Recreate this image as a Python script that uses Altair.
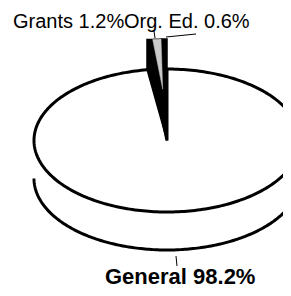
import altair as alt
import numpy as np
import pandas as pd

# ---- data ----
categories = ["General", "Grants", "Org. Ed."]
values = [98.2, 1.2, 0.6]
labels = ["General 98.2%", "Grants 1.2%", "Org. Ed. 0.6%"]

# ---- layout (pixel geometry of the tilted pie) ----
W, H = 275, 280
CX, CY, RX, RY = 167.0, 140.5, 133.0, 71.5
DEPTH, LIFT, SIDE = 38.0, 30.0, 5.0

total = float(sum(values))
ends = list(np.cumsum(values) / total * 360.0)
starts = [0.0] + ends[:-1]


def pt(theta, lift=0.0, drop=0.0, f=1.0):
    t = np.radians(theta)
    return (CX + f * RX * np.sin(t), CY - f * RY * np.cos(t) - lift + drop)


def arc(a0, a1, lift=0.0, drop=0.0, n=120):
    return [pt(a, lift, drop) for a in np.linspace(a0, a1, n)]


def frame(points, name):
    return pd.DataFrame({"x": [p[0] for p in points],
                         "y": [p[1] for p in points],
                         "i": range(len(points)),
                         "shape": name})


center = (CX, CY)
gen_pts = [center] + arc(starts[0], ends[0], n=300) + [center]
bottom_pts = arc(90, 270, drop=DEPTH, n=200)
a0, a1 = starts[1], ends[2]
p0, p0r = pt(a0), pt(a0, lift=LIFT)
wedge_pts = ([center, (p0[0] - SIDE, p0[1]), (p0r[0] - SIDE, p0r[1])]
             + arc(a0, a1, lift=LIFT, n=20) + [pt(a1), center])
g0, g1 = starts[1] + 0.3, ends[1] - 0.4
grants_pts = [pt(g0, lift=LIFT, f=0.3)] + arc(g0, g1, lift=LIFT, n=20) + [pt(g0, lift=LIFT, f=0.3)]

xs = alt.Scale(domain=[8, 8 + W], nice=False, zero=False)
ys = alt.Scale(domain=[8, 8 + H], nice=False, zero=False, reverse=True)


def enc(ch):
    return ch.encode(
        x=alt.X("x:Q", scale=xs, axis=None),
        y=alt.Y("y:Q", scale=ys, axis=None),
        order=alt.Order("i:Q"),
    )


bottom = enc(alt.Chart(frame(bottom_pts, "side")).mark_line(color="black", strokeWidth=3))
gen = enc(alt.Chart(frame(gen_pts, categories[0])).mark_line(color="black", strokeWidth=3, strokeJoin="round"))
wedge = enc(alt.Chart(frame(wedge_pts, "wedge")).mark_line(color="black", fill="black", strokeWidth=1.5))
grants = enc(alt.Chart(frame(grants_pts, categories[1])).mark_line(color="#bdbdbd", fill="#c8c8c8", strokeWidth=0.5))

leaders = pd.DataFrame({
    "x": [154, 166, 176], "y": [31, 37, 256],
    "x2": [155, 196, 177], "y2": [38, 34, 266],
})
lead = alt.Chart(leaders).mark_rule(color="black", strokeWidth=1).encode(
    x=alt.X("x:Q", scale=xs, axis=None), y=alt.Y("y:Q", scale=ys, axis=None),
    x2="x2:Q", y2="y2:Q")

top_lab = pd.DataFrame({"text": [labels[1], labels[2]], "x": [13, 124], "y": [28, 28]})
bot_lab = pd.DataFrame({"text": [labels[0]], "x": [105], "y": [284]})

t1 = alt.Chart(top_lab).mark_text(align="left", baseline="alphabetic", font="Liberation Sans",
                                 fontSize=20, color="black").encode(
    x=alt.X("x:Q", scale=xs, axis=None), y=alt.Y("y:Q", scale=ys, axis=None), text="text:N")
t2 = alt.Chart(bot_lab).mark_text(align="left", baseline="alphabetic", font="Liberation Sans",
                                 fontSize=22, fontWeight="bold", color="black").encode(
    x=alt.X("x:Q", scale=xs, axis=None), y=alt.Y("y:Q", scale=ys, axis=None), text="text:N")

chart = alt.layer(bottom, gen, wedge, grants, lead, t1, t2).properties(
    width=W, height=H, padding=0, autosize="none", background="white"
).configure_view(stroke=None)

chart.save("out.html", embed_options={"renderer": "svg", "actions": False})
